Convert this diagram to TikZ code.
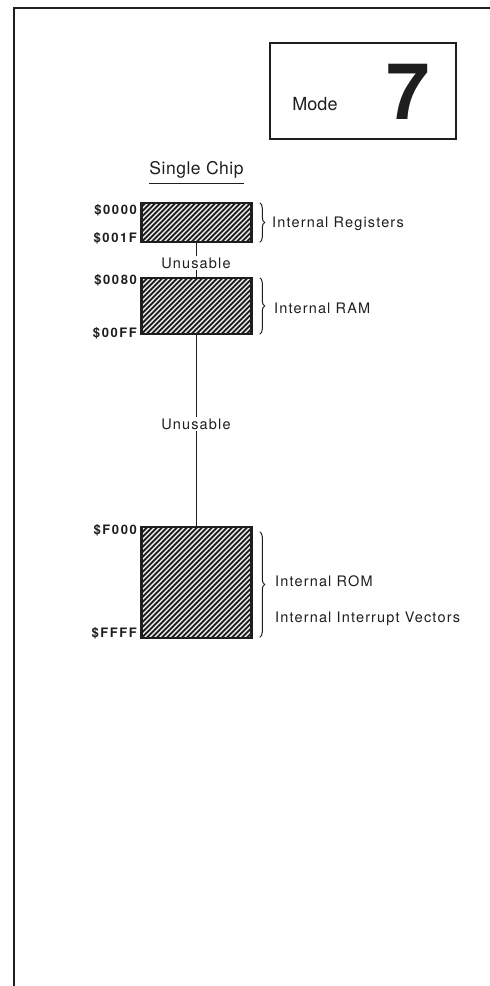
\documentclass[tikz,border=0pt]{standalone}
\usepackage{fontspec}
\setmainfont{TeX Gyre Heros}
\newfontfamily\labfont[LetterSpace=8]{TeX Gyre Heros}
\newfontfamily\addrfont[LetterSpace=12]{TeX Gyre Heros}
\newfontfamily\titfont[LetterSpace=3]{TeX Gyre Heros}
\usetikzlibrary{decorations.pathreplacing}
\definecolor{ink}{RGB}{30,30,30}
\tikzset{
  lab/.style={inner sep=0pt, text=ink, font=\labfont\fontsize{14.5}{16}\selectfont},
  addr/.style={inner sep=0pt, anchor=east, text=ink, font=\addrfont\bfseries\fontsize{13}{15}\selectfont},
  memblock/.style={draw=ink, line width=2.5pt, minimum width=110pt, inner sep=0pt,
    path picture={
      \foreach \i in {-26,...,24} {
        \draw[ink, line width=1.9pt] ([xshift=\i*5pt]path picture bounding box.south west) -- ++(135pt,135pt);
      }
    }},
  conn/.style={draw=ink, line width=1.5pt},
  bracestyle/.style={draw=ink, line width=1pt, decorate, decoration={brace, amplitude=5pt}},
  gap/.style={lab, fill=white, inner sep=1.5pt}
}
\begin{document}
\begin{tikzpicture}[x=1pt, y=-1pt]
\useasboundingbox (0,0) rectangle (490,986);
% frame
\draw[ink, line width=2.3pt] (14,986) -- (14,8) -- (490,8);
% mode box
\node[draw=ink, line width=1.6pt, minimum width=186pt, minimum height=96pt, inner sep=0pt] (modebox) at (363,91) {};
\node[inner sep=0pt, text=ink, font=\fontsize{18}{20}\selectfont] (modetxt) at (315,104) {Mode};
\node[inner sep=0pt, text=ink, font=\bfseries\fontsize{78}{80}\selectfont] (seven) at (408,92) {7};
% title
\node[inner sep=0pt, text=ink, font=\titfont\fontsize{17.5}{20}\selectfont] (title) at (196.5,170) {Single Chip};
\draw[ink, line width=1.5pt] ([yshift=-5pt]title.south west) -- ([yshift=-5pt]title.south east);
% memory blocks
\node[memblock, minimum height=39pt] (b1) at (196.5,222.5) {};
\node[memblock, minimum height=56pt] (b2) at (196.5,306) {};
\node[memblock, minimum height=111pt] (b3) at (196.5,582.5) {};
% connectors
\draw[conn] (b1.south) -- (b2.north);
\draw[conn] (b2.south) -- (b3.north);
\node[gap] (u1) at (196,263) {Unusable};
\node[gap] (u2) at (196,424) {Unusable};
% addresses
\node[addr] (a1) at (137,210) {\$0000};
\node[addr] (a2) at (137,238) {\$001F};
\node[addr] (a3) at (137,280) {\$0080};
\node[addr] (a4) at (137,333) {\$00FF};
\node[addr] (a5) at (137,530) {\$F000};
\node[addr] (a6) at (137,633) {\$FFFF};
% braces
\draw[bracestyle] ([xshift=7pt,yshift=-1pt]b1.north east) -- ([xshift=7pt,yshift=1pt]b1.south east);
\draw[bracestyle] ([xshift=7pt,yshift=-1pt]b2.north east) -- ([xshift=7pt,yshift=1pt]b2.south east);
\draw[bracestyle] ([xshift=7pt,yshift=-6pt]b3.north east) -- ([xshift=7pt,yshift=2pt]b3.south east);
% labels
\node[lab, anchor=west] (l1) at (272,224) {Internal Registers};
\node[lab, anchor=west] (l2) at (274,308) {Internal RAM};
\node[lab, anchor=west] (l3) at (275,581) {Internal ROM};
\node[lab, anchor=west] (l4) at (275,619) {Internal Interrupt Vectors};
\end{tikzpicture}
\end{document}
